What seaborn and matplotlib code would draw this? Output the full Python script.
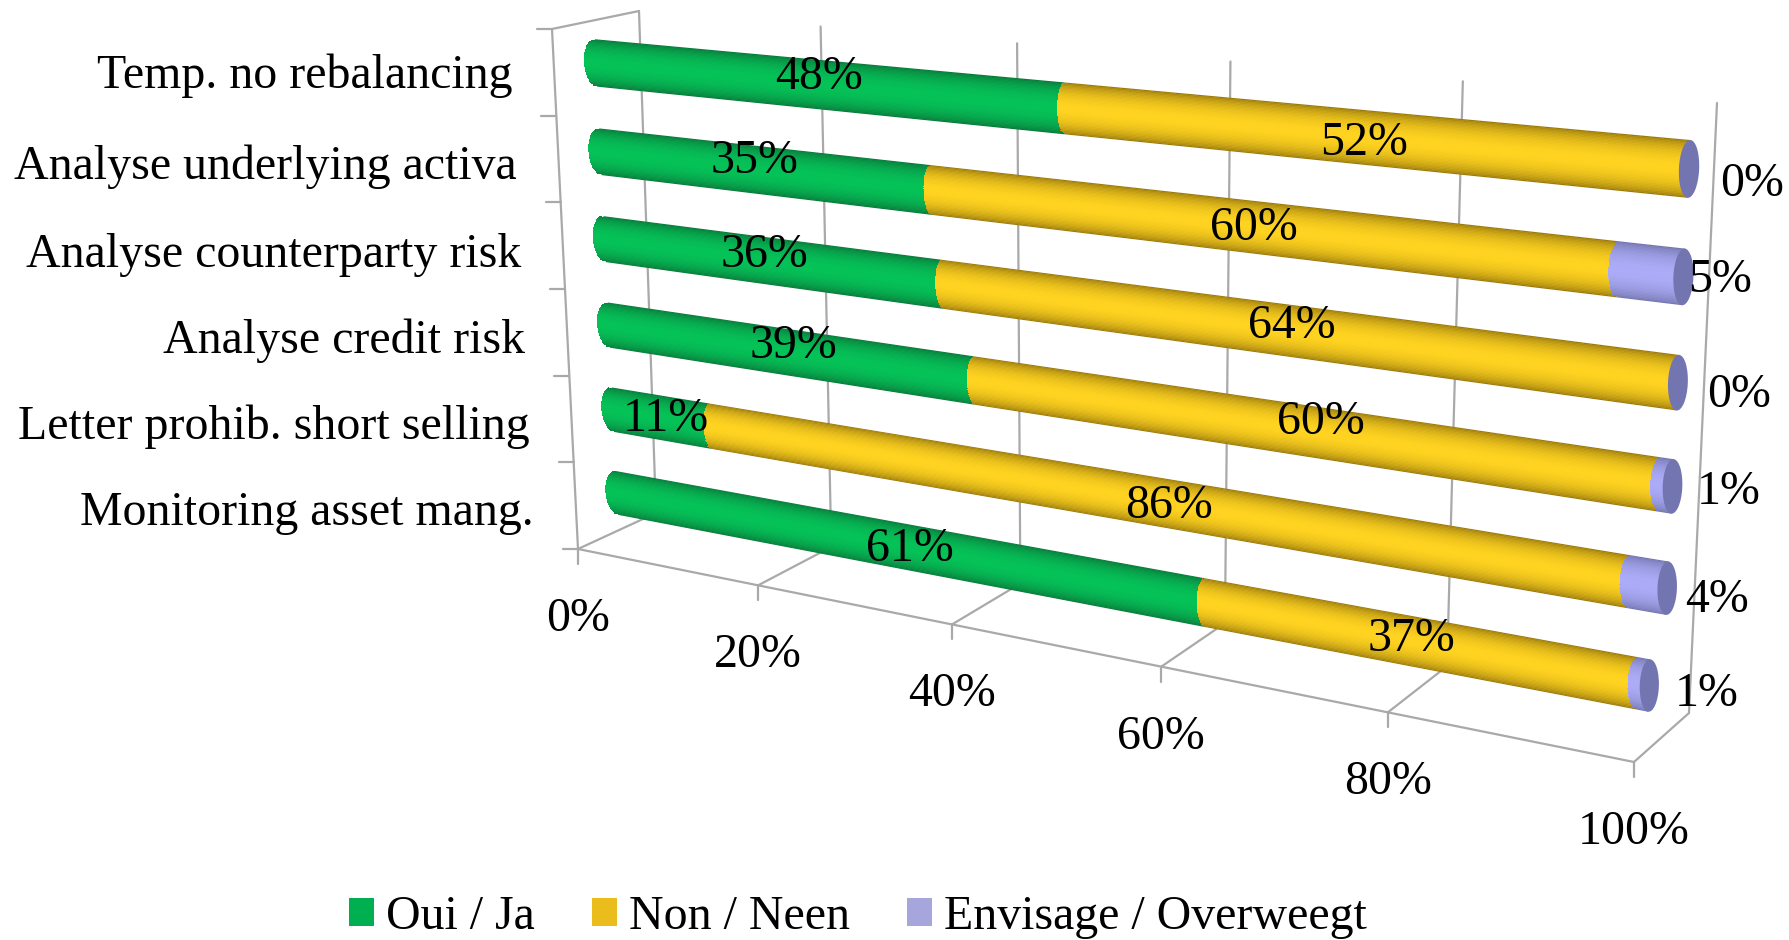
import numpy as np
import pandas as pd
import seaborn as sns
import matplotlib.pyplot as plt
from matplotlib.colors import to_rgb
from matplotlib.patches import Ellipse, Patch
from matplotlib.transforms import Transform

# valeurs
labels = ["Temp. no rebalancing", "Analyse underlying activa", "Analyse counterparty risk",
          "Analyse credit risk", "Letter prohib. short selling", "Monitoring asset mang."]
oui = [48, 35, 36, 39, 11, 61]
non = [52, 60, 64, 60, 86, 37]
envisage = [0, 5, 0, 1, 4, 1]
x_ticks = [0, 20, 40, 60, 80, 100]
series_names = ["Oui / Ja", "Non / Neen", "Envisage / Overweegt"]

W, H = 1789, 940
FONT = 34.5


class Homography(Transform):
    input_dims = output_dims = 2
    is_separable = False

    def __init__(self, src, dst):
        super().__init__()
        rows, rhs = [], []
        for (a, b), (c, d) in zip(src, dst):
            rows.append([a, b, 1, 0, 0, 0, -a * c, -b * c])
            rows.append([0, 0, 0, a, b, 1, -a * d, -b * d])
            rhs += [c, d]
        self.m = np.append(np.linalg.solve(np.array(rows, float), np.array(rhs, float)), 1).reshape(3, 3)

    def transform_non_affine(self, values):
        v = np.asarray(values, float)
        p = np.c_[v, np.ones(len(v))] @ self.m.T
        return p[:, :2] / p[:, 2:]


# plans du pseudo 3D, en pixels de la figure
to_bars = Homography([(0, 0), (100, 0), (0, 5), (100, 5)], [(596, 63), (1689, 169), (617, 493), (1662, 688)])
to_wall = Homography([(0, 1), (100, 1), (0, 0), (100, 0)], [(639, 11), (1717, 103), (656, 513), (1689, 713)])
to_floor = Homography([(0, 0), (100, 0), (0, 1), (100, 1)], [(578, 549), (1634, 762), (656, 513), (1691, 711)])


def px(tr, a, b):
    return tr.transform_non_affine([[a, b]])[0]


sns.set_style("white")
plt.rcParams["font.family"] = ["Liberation Serif", "DejaVu Serif"]
plt.rcParams["text.color"] = "black"

df = pd.DataFrame({"label": labels, "oui": oui, "non": non, "env": envisage})
df["end_oui"] = df["oui"]
df["end_non"] = df["oui"] + df["non"]
df["end_env"] = (df["end_non"] + df["env"]).clip(upper=100)

fig = plt.figure(figsize=(W / 100, H / 100), dpi=100)
ax = fig.add_axes([0, 0, 1, 1])

edge = {"oui": "#0A7A3C", "non": "#9C7C0E", "env": "#7577B0"}
center = {"oui": "#05C257", "non": "#FFD320", "env": "#ABABF7"}
cap_color = "#7375B0"
BAR = 0.53
BULGE = 0.75
BULGE_LEFT = 1.3


def shade(name, k):
    a, b = np.array(to_rgb(edge[name])), np.array(to_rgb(center[name]))
    return tuple(a + (b - a) * k ** 1.5)


# cylindres : bandes de plus en plus fines, chaque segment part de la fin du precedent
n_outer = 0
for t in np.linspace(1, 0.04, 20):
    k = np.sqrt(1 - t ** 2)
    off = BULGE * k
    starts = {"oui": np.full(len(df), -BULGE_LEFT * k), "non": df["end_oui"] - off, "env": df["end_non"] - off}
    stops = {"oui": df["end_oui"] - off, "non": df["end_non"] - off, "env": df["end_env"]}
    for name in ["env", "non", "oui"]:
        before = len(ax.patches)
        sns.barplot(x=(stops[name] - starts[name]).values, y=df["label"], order=labels, color=shade(name, k),
                    saturation=1, width=BAR * t, linewidth=0, errorbar=None, ax=ax)
        for bar, s in zip(ax.patches[before:], np.asarray(starts[name])):
            bar.set_x(s)
    if n_outer == 0:
        n_outer = len(ax.patches)

for row in range(len(labels)):
    ax.add_patch(Ellipse((df["end_env"][row], row), 2 * BULGE, BAR, color=cap_color, lw=0, zorder=3))

for i, p in enumerate(ax.patches):
    p.set_transform(to_bars + ax.transData)
    if i >= n_outer and not isinstance(p, Ellipse):
        p.set_antialiased(False)

# grille
grid = dict(color="#A9A9A9", lw=1.6, zorder=0.5)
for v in x_ticks:
    a, b = px(to_wall, v, 1), px(to_wall, v, 0)
    ax.plot([a[0], b[0]], [a[1], b[1]], **grid)
    a = px(to_floor, v, 0)
    ax.plot([a[0], b[0]], [a[1], b[1]], **grid)
    ax.plot([a[0], a[0]], [a[1], a[1] + 15], **grid)
    ax.text(a[0], a[1] + 70, f"{v}%", ha="center", va="center", fontsize=FONT, zorder=6)
front_a, front_b = px(to_floor, 0, 0), px(to_floor, 100, 0)
ax.plot([front_a[0], front_b[0]], [front_a[1], front_b[1]], **grid)

top_front = np.array([552.0, 29.0])
top_back = px(to_wall, 0, 1)
ax.plot([top_front[0], top_back[0]], [top_front[1], top_back[1]], **grid)
ax.plot([top_front[0], front_a[0]], [top_front[1], front_a[1]], **grid)
for i in range(len(labels) + 1):
    p = top_front + (front_a - top_front) * i / len(labels)
    ax.plot([p[0] - 15, p[0]], [p[1], p[1]], **grid)
nudge_lab = [-4, 1, 2, 1, 1, 0]
for i, lab in enumerate(labels):
    p = top_front + (front_a - top_front) * (i + 0.5) / len(labels)
    ax.text(p[0] - 42, p[1] + 7 + nudge_lab[i], lab, ha="right", va="center", fontsize=FONT, zorder=6)

# etiquettes de valeurs, avec un petit decalage en pixels par ligne
nudge_oui = [(0, 2), (-5, 0), (-3, 3), (9, 3), (5, 10), (16, 13)]
nudge_non = [(5, 6), (1, 1), (6, -4), (26, -7), (39, 9), (-1, -2)]
nudge_env = [(0, 14), (-9, 3), (0, 9), (-1, 2), (3, 9), (-12, 1)]
for i, row in df.iterrows():
    a = px(to_bars, row["end_oui"] / 2, i - 0.1) + nudge_oui[i]
    ax.text(a[0], a[1], f"{row['oui']}%", ha="center", va="center", fontsize=FONT, zorder=6)
    a = px(to_bars, (row["end_oui"] + row["end_non"]) / 2, i) + nudge_non[i]
    ax.text(a[0], a[1], f"{row['non']}%", ha="center", va="center", fontsize=FONT, zorder=6)
    a = px(to_bars, 100 - row["env"] * 0.25 + 4.6, i - 0.05) + nudge_env[i]
    ax.text(a[0], a[1], f"{row['env']}%", ha="center", va="center", fontsize=FONT, zorder=6)

handles = [Patch(color=c, lw=0) for c in ["#00B050", "#EBBD1C", "#A6A6DC"]]
ax.legend(handles, series_names, loc="center", bbox_to_anchor=(858 / W, 1 - 917 / H), ncol=3, frameon=False,
          fontsize=FONT, handlelength=0.52, handleheight=0.52, handletextpad=0.25, columnspacing=1.2)

ax.set_xlim(0, W)
ax.set_ylim(H, 0)
ax.set_axis_off()
fig.savefig("out.png", dpi=100)
